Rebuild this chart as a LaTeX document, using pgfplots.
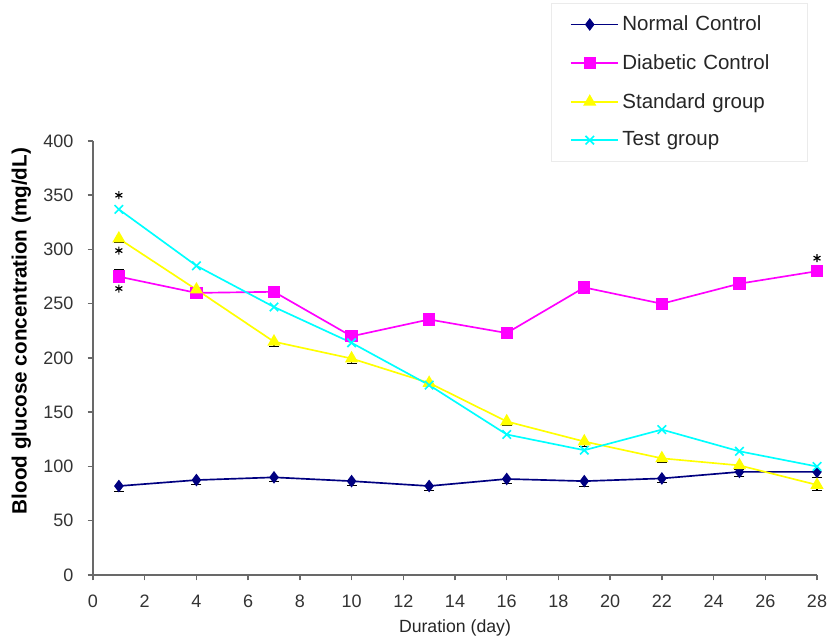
\documentclass[border=0pt]{standalone}
\usepackage{pgfplots}
\pgfplotsset{compat=1.18}
\usepackage{fontspec}
\setmainfont{Liberation Sans}
\definecolor{ncol}{RGB}{0,0,128}
\definecolor{dcol}{RGB}{255,0,255}
\definecolor{scol}{RGB}{255,255,0}
\definecolor{tcol}{RGB}{0,255,255}
\definecolor{axgray}{RGB}{105,105,105}
\begin{document}
\begin{tikzpicture}
\begin{axis}[
  scale only axis,
  width=434.4pt, height=260.4pt,
  xmin=0, xmax=28, ymin=0, ymax=400,
  axis lines=left,
  axis line style={axgray, line width=1.3pt, -},
  xtick={0,2,...,28}, ytick={0,50,...,400},
  tick style={axgray, line width=0.9pt},
  tick align=outside,
  major tick length=3.2pt,
  /pgf/number format/assume math mode=true,
  tick label style={font=\fontsize{10.8}{12}\selectfont, text=black!80},
  xticklabel style={yshift=-5.5pt},
  yticklabel style={xshift=-5pt},
  xlabel={Duration (day)},
  every axis x label/.style={at={([yshift=-31.8pt]axis description cs:0.5,0)}, anchor=center},
  xlabel style={font=\fontsize{10.6}{12}\selectfont, text=black!85},
  ylabel={\textbf{Blood glucose concentration (mg/dL)}},
  every axis y label/.style={at={([xshift=-43pt]axis description cs:0,0.562)}, rotate=90, anchor=center},
  ylabel style={font=\fontsize{12.4}{14}\selectfont},
  legend style={at={(0.633,1.318)}, anchor=north west, draw=black!8,
    font=\fontsize{12.3}{14}\selectfont, text=black!85,
    row sep=8.8pt, inner xsep=11pt, inner ysep=5.5pt,
    /tikz/every even column/.append style={text width=98pt}},
  legend cell align=left,
  legend image code/.code={
    \path (0cm,0cm) -- (1.0cm,0cm);
    \draw[mark repeat=2,mark phase=2] plot coordinates {(0cm,0cm) (0.4cm,0cm) (0.8cm,0cm)};},
  clip=false,
]
\addplot[ncol, line width=1pt, mark=diamond*, mark size=3pt, mark options={fill=ncol},
  error bars/.cd, y dir=minus, y explicit, error bar style={black, line width=0.8pt}, error mark options={black, rotate=90, mark size=3pt}]
  coordinates {(1,82) +- (0,5) (4,87.5) +- (0,4) (7,90) +- (0,4) (10,86.5) +- (0,4) (13,82) +- (0,4)
   (16,88.5) +- (0,4) (19,86.5) +- (0,5) (22,89) +- (0,4) (25,95) +- (0,4) (28,95) +- (0,5)};
\addlegendentry{Normal Control}
\addplot[dcol, line width=1pt, mark=square*, mark size=3.2pt, mark options={fill=dcol},
  error bars/.cd, y dir=plus, y explicit, error bar style={black, line width=0.8pt}, error mark options={black, rotate=90, mark size=3pt}]
  coordinates {(1,275) +- (0,7) (4,260) +- (0,3) (7,261) +- (0,3) (10,220) +- (0,3) (13,235.5) +- (0,3)
   (16,223) +- (0,3) (19,265) +- (0,4) (22,250) +- (0,4) (25,268.5) +- (0,5) (28,280) +- (0,3)};
\addlegendentry{Diabetic Control}
\addplot[scol, line width=1pt, mark=triangle*, mark size=3.6pt, mark options={fill=scol},
  error bars/.cd, y dir=minus, y explicit, error bar style={black, line width=0.8pt}, error mark options={black, rotate=90, mark size=3pt}]
  coordinates {(1,310) +- (0,3) (4,263) +- (0,3) (7,215) +- (0,4) (10,199.5) +- (0,4) (13,177) +- (0,3)
   (16,141.5) +- (0,4) (19,123) +- (0,4) (22,107.5) +- (0,4) (25,101) +- (0,4) (28,83) +- (0,5)};
\addlegendentry{Standard group}
\addplot[tcol, line width=1pt, mark=x, mark size=3.6pt, mark options={tcol, line width=1pt}]
  coordinates {(1,337) (4,285) (7,247) (10,214) (13,175) (16,129.5) (19,115) (22,134) (25,114) (28,100)};
\addlegendentry{Test group}
\addplot[only marks, black, mark=asterisk, mark size=2.4pt, mark options={line width=0.7pt}, forget plot]
  coordinates {(1,350) (1,299) (1,264) (28,292)};
\end{axis}
\pgfresetboundingbox
\path[use as bounding box] ([xshift=-55.8pt,yshift=-37.8pt]current axis.south west) rectangle ([xshift=7.2pt,yshift=84.6pt]current axis.north east);
\end{tikzpicture}
\end{document}
